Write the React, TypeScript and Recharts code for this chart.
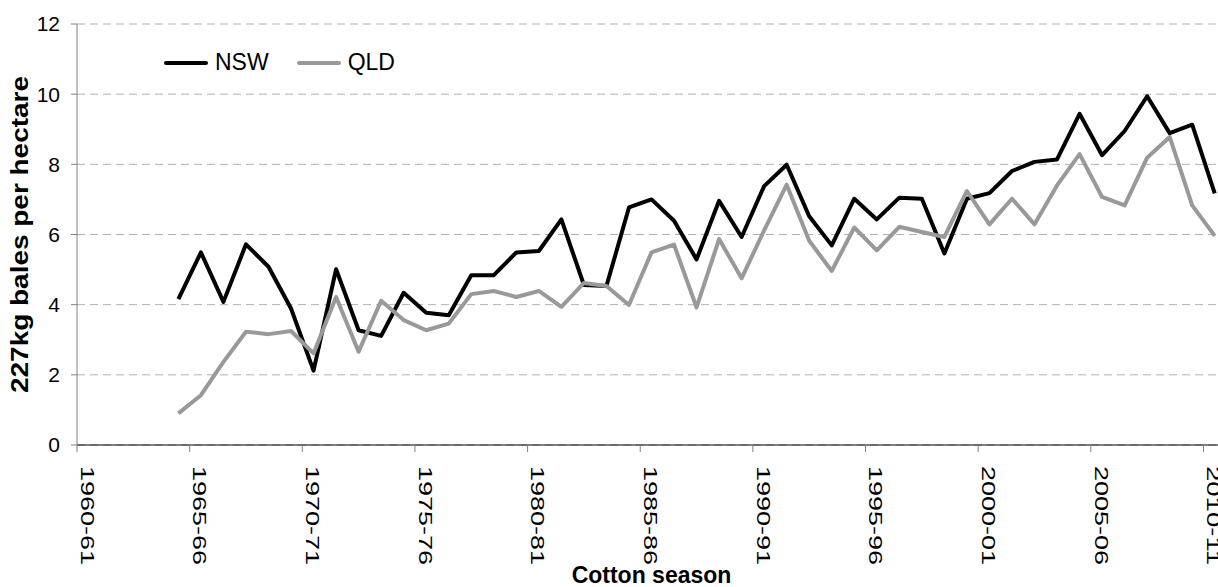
import { LineChart, Line, XAxis, YAxis, CartesianGrid } from 'recharts'

// cotton seasons on the category axis
const SEASONS = [
  '1960-61', '1961-62', '1962-63', '1963-64', '1964-65', '1965-66', '1966-67', '1967-68', '1968-69', '1969-70',
  '1970-71', '1971-72', '1972-73', '1973-74', '1974-75', '1975-76', '1976-77', '1977-78', '1978-79', '1979-80',
  '1980-81', '1981-82', '1982-83', '1983-84', '1984-85', '1985-86', '1986-87', '1987-88', '1988-89', '1989-90',
  '1990-91', '1991-92', '1992-93', '1993-94', '1994-95', '1995-96', '1996-97', '1997-98', '1998-99', '1999-00',
  '2000-01', '2001-02', '2002-03', '2003-04', '2004-05', '2005-06', '2006-07', '2007-08', '2008-09', '2009-10',
  '2010-11',
]

// 227kg bales per hectare, no data before 1964-65
const NSW = [
  null, null, null, null, 4.16, 5.49, 4.08, 5.72, 5.08, 3.89,
  2.12, 5.01, 3.27, 3.11, 4.34, 3.77, 3.70, 4.84, 4.84, 5.49,
  5.53, 6.43, 4.56, 4.53, 6.77, 7.0, 6.39, 5.29, 6.96, 5.93,
  7.38, 7.99, 6.52, 5.69, 7.02, 6.43, 7.05, 7.02, 5.46, 7.02,
  7.18, 7.81, 8.07, 8.14, 9.44, 8.26, 8.95, 9.94, 8.89, 9.13,
  7.17,
]

const QLD = [
  null, null, null, null, 0.90, 1.42, 2.37, 3.23, 3.16, 3.25,
  2.61, 4.22, 2.66, 4.11, 3.56, 3.27, 3.46, 4.30, 4.39, 4.22,
  4.39, 3.94, 4.62, 4.53, 3.99, 5.49, 5.71, 3.92, 5.87, 4.75,
  6.12, 7.42, 5.82, 4.96, 6.20, 5.55, 6.22, 6.07, 5.93, 7.24,
  6.29, 7.02, 6.29, 7.40, 8.29, 7.07, 6.83, 8.19, 8.78, 6.83,
  5.96,
]

const Y_TICKS = [0, 2, 4, 6, 8, 10, 12]

const SERIES = [
  { key: 'nsw', name: 'NSW', color: '#000' },
  { key: 'qld', name: 'QLD', color: '#999' },
]

const data = SEASONS.map((season, i) => ({ season, nsw: NSW[i], qld: QLD[i] }))

const FONT = '"Liberation Sans", Arial, sans-serif'
const WIDTH = 1240
const HEIGHT = 587
const MARGIN = { top: 24, right: 14, left: 0, bottom: 0 }
const Y_AXIS_WIDTH = 77
const X_AXIS_HEIGHT = 142
const PLOT_LEFT = MARGIN.left + Y_AXIS_WIDTH
const PLOT_RIGHT = WIDTH - MARGIN.right
const PLOT_TOP = MARGIN.top
const PLOT_BOTTOM = HEIGHT - MARGIN.bottom - X_AXIS_HEIGHT
const BAND = (PLOT_RIGHT - PLOT_LEFT) / SEASONS.length

// Excel style: tick marks on category boundaries, label in the middle of the category
const SeasonTick = (props: any) => {
  const { x, payload } = props
  const tx = x - BAND / 2
  return (
    <g>
      <line x1={tx} x2={tx} y1={PLOT_BOTTOM} y2={PLOT_BOTTOM + 7} stroke="#808080" strokeWidth={1} />
      <text
        transform={`translate(${x - 1},${PLOT_BOTTOM + 21}) rotate(90)`}
        textAnchor="start"
        dominantBaseline="central"
        fontSize={19}
        fontFamily={FONT}
        fill="#000"
        textLength={99}
        lengthAdjust="spacingAndGlyphs"
      >
        {payload.value}
      </text>
    </g>
  )
}

export default function App() {
  return (
    <div style={{ position: 'absolute', left: 0, top: 0, width: 1218, height: HEIGHT, overflow: 'hidden', background: '#fff' }}>
      <LineChart width={WIDTH} height={HEIGHT} data={data} margin={MARGIN}>
        <CartesianGrid vertical={false} stroke="#b0b0b0" strokeDasharray="8 5" />
        <XAxis
          dataKey="season"
          interval={4}
          height={X_AXIS_HEIGHT}
          padding={{ left: BAND / 2, right: BAND / 2 }}
          tickLine={false}
          axisLine={{ stroke: '#000', strokeWidth: 1 }}
          tick={<SeasonTick />}
          label={{
            content: () => (
              <text x={(PLOT_LEFT + PLOT_RIGHT) / 2} y={583} textAnchor="middle" fontFamily={FONT} fontWeight="bold" fontSize={23} fill="#000">
                Cotton season
              </text>
            ),
          }}
        />
        <YAxis
          width={Y_AXIS_WIDTH}
          domain={[0, 12]}
          ticks={Y_TICKS}
          interval={0}
          tickSize={6}
          tickMargin={11}
          axisLine={{ stroke: '#808080' }}
          tickLine={{ stroke: '#808080' }}
          tick={{ fontSize: 21, fontFamily: FONT, fill: '#000' }}
          label={{
            content: () => (
              <text
                transform={`translate(28,${(PLOT_TOP + PLOT_BOTTOM) / 2}) rotate(-90)`}
                textAnchor="middle"
                fontFamily={FONT}
                fontWeight="bold"
                fontSize={24}
                fill="#000"
                textLength={317}
                lengthAdjust="spacingAndGlyphs"
              >
                227kg bales per hectare
              </text>
            ),
          }}
        />
        {SERIES.map((s) => (
          <Line
            key={s.key}
            type="linear"
            dataKey={s.key}
            name={s.name}
            stroke={s.color}
            strokeWidth={4}
            strokeLinejoin="round"
            dot={false}
            activeDot={false}
            isAnimationActive={false}
          />
        ))}
      </LineChart>
      {/* legend sits inside the plot, top left */}
      <div style={{ position: 'absolute', left: 164, top: 49, display: 'flex', alignItems: 'center', fontFamily: FONT, fontSize: 23 }}>
        {SERIES.map((s) => (
          <div key={s.key} style={{ display: 'flex', alignItems: 'center', marginRight: 28 }}>
            <svg width={44} height={8} style={{ marginRight: 7 }}>
              <line x1={2} x2={42} y1={4} y2={4} stroke={s.color} strokeWidth={4} strokeLinecap="round" />
            </svg>
            <span style={{ color: '#000' }}>{s.name}</span>
          </div>
        ))}
      </div>
    </div>
  )
}
